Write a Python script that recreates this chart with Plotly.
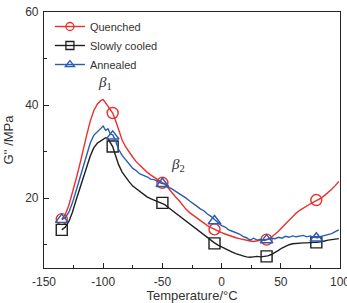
import plotly.graph_objects as go

# Temperature grid (°C) for line curves
temp = [-135, -132, -129, -126, -123, -120, -117, -114, -111, -108, -105, -102, -100, -98, -96, -94, -92, -90,
        -87, -84, -81, -78, -75, -72, -69, -66, -63, -60, -57, -54, -51, -48, -45, -42, -39, -36, -33, -30,
        -27, -24, -21, -18, -15, -12, -9, -6, -3, 0, 3, 6, 9, 12, 15, 18, 21, 24, 27, 30, 33, 36, 39, 42,
        45, 48, 51, 54, 57, 60, 63, 66, 69, 72, 75, 78, 81, 84, 87, 90, 93, 96, 99]

quenched = [15.5, 16.5, 18.5, 21.0, 24.0, 27.0, 30.5, 33.5, 36.5, 38.8, 40.2, 41.0, 41.2, 40.6, 39.8, 39.0, 38.3, 37.0,
            34.5, 32.5, 31.0, 29.8, 28.8, 27.8, 27.0, 26.2, 25.6, 25.0, 24.4, 24.0, 23.5, 23.0, 22.2, 21.2, 20.3, 19.5, 18.5, 17.6,
            16.9, 16.3, 15.8, 15.2, 14.6, 14.1, 13.7, 13.3, 12.9, 12.6, 12.3, 12.0, 11.7, 11.5, 11.3, 11.1, 10.9, 10.8, 10.7, 10.8, 10.9, 11.0, 11.2, 11.6,
            12.2, 12.9, 13.7, 14.5, 15.3, 16.1, 16.8, 17.4, 17.9, 18.4, 18.8, 19.2, 19.6, 20.0, 20.6, 21.2, 21.9, 22.7, 23.6]

annealed = [15.4, 15.8, 17.0, 19.0, 21.5, 24.0, 26.8, 29.5, 31.8, 33.5, 34.3, 35.0, 35.5, 34.6, 34.9, 33.8, 33.6, 32.6,
            30.5, 29.2, 28.3, 27.2, 26.4, 25.9, 25.2, 24.9, 24.6, 24.1, 24.0, 23.6, 23.2, 23.1, 22.4, 22.0, 21.5, 21.0, 20.6, 20.0,
            19.4, 18.9, 18.3, 17.7, 17.3, 16.6, 16.1, 15.4, 14.8, 14.1, 13.8, 13.2, 12.9, 12.6, 12.3, 11.8, 11.5, 11.0, 11.4, 11.0, 11.2, 10.9, 11.1, 11.4,
            11.3, 11.6, 11.4, 11.8, 11.6, 11.9, 11.7, 11.8, 12.0, 11.7, 11.9, 11.6, 11.5, 11.8, 12.0, 12.2, 12.4, 12.8, 13.2]

slowly = [13.2, 13.8, 15.0, 17.0, 19.5, 22.0, 24.5, 27.0, 29.0, 30.8, 31.8, 32.3, 32.6, 33.0, 32.8, 32.0, 31.1, 29.5,
          27.2, 25.6, 24.5, 23.5, 22.6, 22.0, 21.3, 20.8, 20.3, 19.9, 19.6, 19.3, 19.0, 18.6, 18.0, 17.4, 16.8, 16.2, 15.6, 15.0,
          14.4, 13.8, 13.2, 12.6, 12.0, 11.5, 11.0, 10.4, 9.9, 9.5, 9.1, 8.7, 8.4, 8.1, 7.8, 7.6, 7.4, 7.3, 7.4, 7.5, 7.4, 7.5, 7.6, 7.9,
          8.3, 8.8, 9.3, 9.7, 10.0, 10.2, 10.3, 10.4, 10.4, 10.4, 10.5, 10.5, 10.5, 10.6, 10.8, 11.0, 11.1, 11.2, 11.3]

# Marker positions
mk_q_x = [-135, -92, -50, -6, 38, 80]
mk_q_y = [15.5, 38.3, 23.3, 13.3, 11.1, 19.6]
mk_s_x = [-135, -92, -50, -6, 38, 80]
mk_s_y = [13.2, 31.1, 19.0, 10.3, 7.5, 10.5]
mk_a_x = [-135, -92, -50, -6, 38, 80]
mk_a_y = [15.4, 33.3, 23.1, 15.1, 11.0, 11.4]

x_tickvals = [-150, -100, -50, 0, 50, 100]
x_ticktext = ["-150", "-100", "-50", "0", "50", "100"]
y_tickvals = [20, 40, 60]
y_ticktext = ["20", "40", "60"]

RED = "#e8302c"
BLACK = "#1f1f1f"
BLUE = "#2a5db0"

fig = go.Figure()

series = [
    ("Quenched", quenched, mk_q_x, mk_q_y, RED, "circle-open"),
    ("Slowly cooled", slowly, mk_s_x, mk_s_y, BLACK, "square-open"),
    ("Annealed", annealed, mk_a_x, mk_a_y, BLUE, "triangle-up-open"),
]

for name, ys, mx, my, col, sym in series:
    fig.add_trace(go.Scatter(x=temp, y=ys, mode="lines", line=dict(color=col, width=1.4),
                             showlegend=False, hoverinfo="skip"))
    fig.add_trace(go.Scatter(x=mx, y=my, mode="markers",
                             marker=dict(symbol=sym, size=11, color=col, line=dict(color=col, width=1.4)),
                             showlegend=False))
    fig.add_trace(go.Scatter(x=[None], y=[None], mode="lines+markers", name=name,
                             line=dict(color=col, width=1.4),
                             marker=dict(symbol=sym, size=8, color=col, line=dict(color=col, width=1.3))))

fig.add_annotation(x=-98.5, y=44.8, text="<i>β</i><sub>1</sub>", showarrow=False,
                   font=dict(family="Liberation Serif", size=15, color="#333"))
fig.add_annotation(x=-37, y=27.2, text="<i>β</i><sub>2</sub>", showarrow=False,
                   font=dict(family="Liberation Serif", size=15, color="#333"))

axis_common = dict(showline=True, linecolor="#222", linewidth=1.2, mirror=True,
                   ticks="inside", ticklen=5, tickcolor="#222", showgrid=False, zeroline=False,
                   ticklabeloverflow="allow", automargin=False,
                   tickfont=dict(family="Liberation Sans", size=12, color="#333"))

fig.update_xaxes(range=[-150, 100], tickmode="array", tickvals=x_tickvals, ticktext=x_ticktext,
                 ticklabelstandoff=2,
                 minor=dict(tickvals=[-125, -75, -25, 25, 75], ticklen=3, ticks="inside", tickcolor="#222"),
                 title=dict(text="Temperature/°C", font=dict(family="Liberation Sans", size=13, color="#333"), standoff=4),
                 **axis_common)
fig.update_yaxes(range=[5, 60], tickmode="array", tickvals=y_tickvals, ticktext=y_ticktext,
                 ticklabelstandoff=2,
                 minor=dict(tickvals=[10, 30, 50], ticklen=3, ticks="inside", tickcolor="#222"),
                 title=dict(text="G'' /MPa", font=dict(family="Liberation Sans", size=13, color="#333"), standoff=8),
                 **axis_common)

fig.update_layout(
    width=347, height=303,
    margin=dict(l=44, r=7, t=12, b=35),
    plot_bgcolor="white", paper_bgcolor="white",
    legend=dict(x=0.02, y=1.0, xanchor="left", yanchor="top", bgcolor="rgba(0,0,0,0)",
                font=dict(family="Liberation Sans", size=11, color="#333"),
                tracegroupgap=0, itemwidth=30),
)

fig.write_html("out.html")
